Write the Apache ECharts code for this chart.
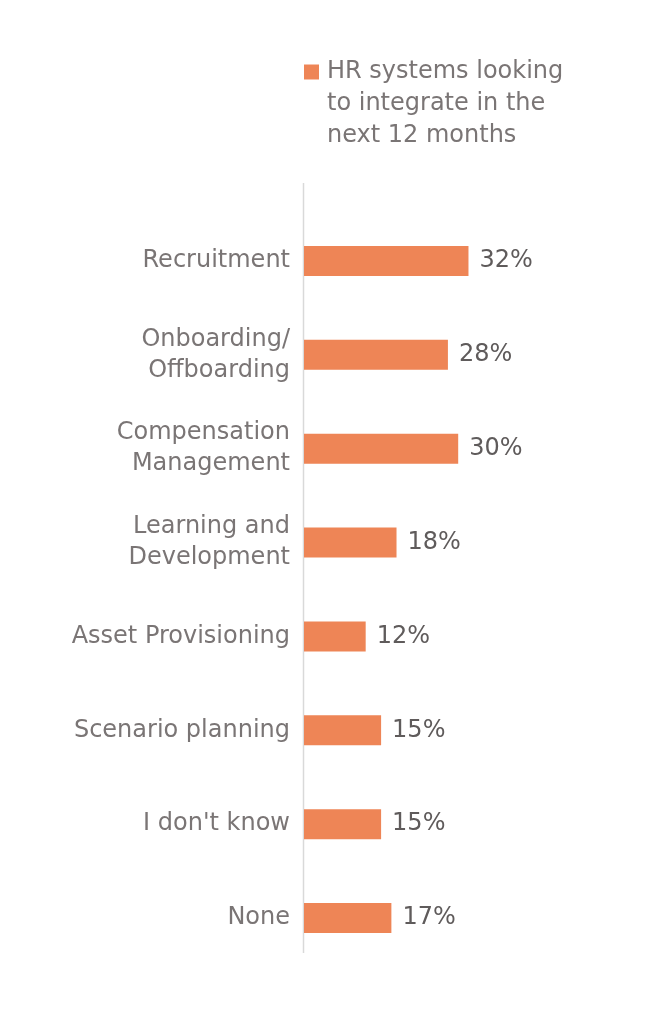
<!DOCTYPE html>
<html>
<head>
<meta charset="utf-8">
<script src="https://cdn.jsdelivr.net/npm/echarts@6/dist/echarts.min.js"></script>
<style>html,body{margin:0;padding:0;background:#fff}#c{width:664px;height:1024px}</style>
</head>
<body>
<div id="c"></div>
<script>
const categories = ["Recruitment", "Onboarding/\nOffboarding", "Compensation\nManagement", "Learning and\nDevelopment", "Asset Provisioning", "Scenario planning", "I don't know", "None"];
const values = [32, 28, 30, 18, 12, 15, 15, 17];
const seriesName = "HR systems looking to integrate in the next 12 months";
const legendLines = ["HR systems looking", "to integrate in the", "next 12 months"];

const FONT = "DejaVu Sans";
const FS = 24;
const GRID_LEFT = 304;
const chart = echarts.init(document.getElementById('c'));
chart.setOption({
  animation: false,
  textStyle: { fontFamily: FONT },
  legend: {
    left: 304, top: -8, padding: 0,
    itemWidth: 15, itemHeight: 15,
    icon: 'rect',
    data: [seriesName],
    formatter: () => '\n\n' + legendLines.join('\n'),
    textStyle: { fontFamily: FONT, fontSize: FS, color: '#7a7575', lineHeight: 32, padding: [0, 0, 0, 3] }
  },
  grid: { left: GRID_LEFT, right: 103, top: 214, bottom: 59 },
  xAxis: { type: 'value', min: 0, max: 50, show: false },
  yAxis: {
    type: 'category', data: categories, inverse: true,
    axisLine: { show: false }, axisTick: { show: false },
    axisLabel: { fontFamily: FONT, fontSize: FS, color: '#7a7575', margin: 14, lineHeight: 31, align: 'right' }
  },
  graphic: [{
    type: 'line', silent: true,
    shape: { x1: GRID_LEFT - 0.5, y1: 183, x2: GRID_LEFT - 0.5, y2: 953 },
    style: { stroke: '#d9d9d9', lineWidth: 1.5 }
  }],
  series: [{
    name: seriesName, type: 'bar', data: values, barWidth: 30,
    itemStyle: { color: '#ee8556' },
    label: { show: true, position: 'right', distance: 11, formatter: p => p.value + '%',
      fontFamily: FONT, fontSize: FS, color: '#5f5b5b' }
  }]
});
</script>
</body>
</html>
